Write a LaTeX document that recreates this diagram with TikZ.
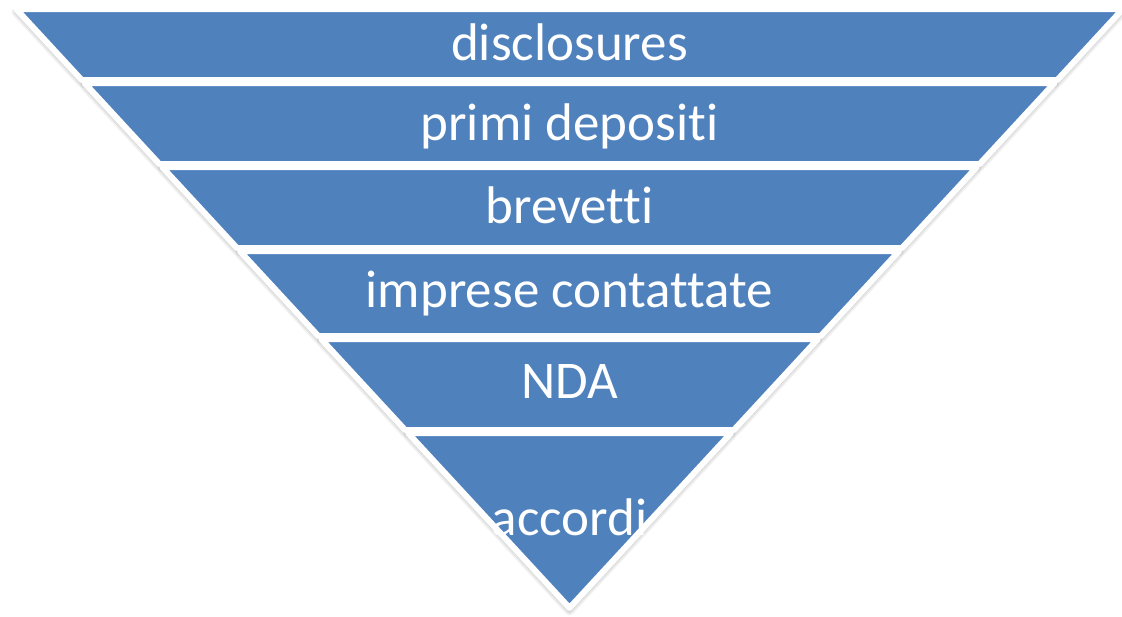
\documentclass[tikz,border=0pt]{standalone}
\usepackage{fontspec}
\setmainfont{Carlito}[Ligatures={NoCommon,NoRare,NoContextual}]
\begin{document}
\begin{tikzpicture}[x=1pt,y=-1pt,
  declare function={xl(\y)=18.9+0.924*(\y-12); xr(\y)=1139-xl(\y);},
  band/.style={fill=bandblue, draw=white, line width=6pt, line join=round},
  shade/.style={draw=black, fill=black, line join=round, opacity=0.055},
  label/.style={text=white, font=\fontsize{53}{60}\selectfont, inner sep=0pt, anchor=base}]
\definecolor{bandblue}{HTML}{4F81BD}
\useasboundingbox (0,0) rectangle (1122,616);
\clip (0,0) rectangle (1122,616);

% soft shadow under every band, built from stacked translucent strokes
\foreach \t/\b in {9/80, 83/164, 167/248, 251/336, 339/430}{
  \foreach \w in {9,6,3,0.5}{
    \path[shade, line width=\w pt, yshift=-3pt]
      ({xl(\t)},\t) -- ({xr(\t)},\t) -- ({xr(\b)},\b) -- ({xl(\b)},\b) -- cycle;
  }
}
\foreach \w in {9,6,3,0.5}{
  \path[shade, line width=\w pt, yshift=-3pt]
    ({xl(433)},433) -- ({xr(433)},433) -- (569.5,607.9) -- cycle;
}

% the six bands of the inverted pyramid
\path[band] ({xl(9)},9)   -- ({xr(9)},9)   -- ({xr(80)},80)   -- ({xl(80)},80)   -- cycle;
\path[band] ({xl(83)},83) -- ({xr(83)},83) -- ({xr(164)},164) -- ({xl(164)},164) -- cycle;
\path[band] ({xl(167)},167) -- ({xr(167)},167) -- ({xr(248)},248) -- ({xl(248)},248) -- cycle;
\path[band] ({xl(251)},251) -- ({xr(251)},251) -- ({xr(336)},336) -- ({xl(336)},336) -- cycle;
\path[band] ({xl(339)},339) -- ({xr(339)},339) -- ({xr(430)},430) -- ({xl(430)},430) -- cycle;
\path[band] ({xl(433)},433) -- ({xr(433)},433) -- (569.5,607.9) -- cycle;

% band labels
\node[label] (disc) at (569.5,60)  {disclosures};
\node[label] (prim) at (569.5,140) {primi depositi};
\node[label] (brev) at (569.5,223) {brevetti};
\node[label] (impr) at (569.5,307) {imprese contattate};
\node[label] (nda)  at (569.5,398) {NDA};
\node[label] (acc)  at (569.5,535) {accordi};
\end{tikzpicture}
\end{document}
